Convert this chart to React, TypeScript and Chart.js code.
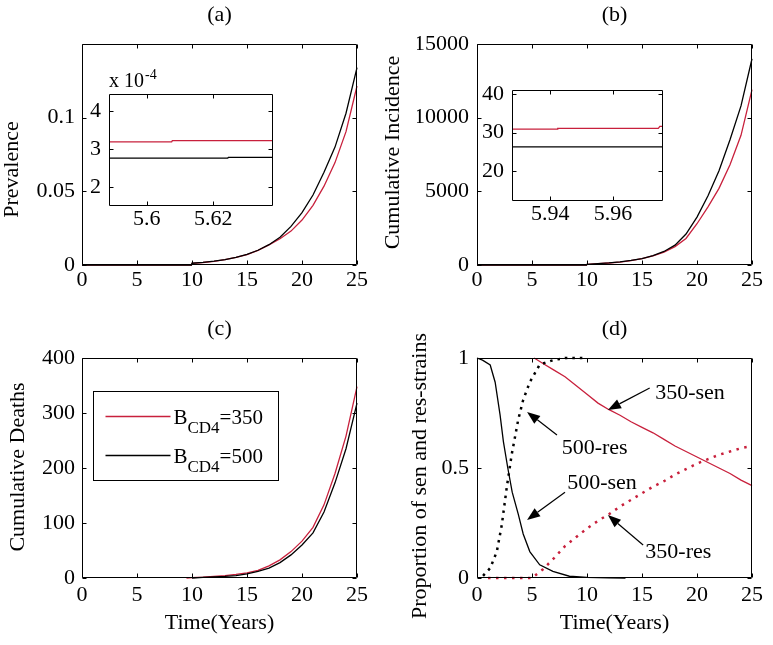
import React, { useEffect, useRef } from "react";
import { Chart, registerables } from "chart.js";
Chart.register(...registerables);

const W = 773;
const H = 645;
const SERIF = "'Liberation Serif', 'Times New Roman', Times, serif";
const RED = "#c8203c";
const BLACK = "#000000";

// shared x axis
const timeTicks = [0, 5, 10, 15, 20, 25];
const timeTickLabels = ["0", "5", "10", "15", "20", "25"];

// (a) Prevalence
const prevTicks = [0, 0.05, 0.1];
const prevTickLabels = ["0", "0.05", "0.1"];
const prevTime = [0, 9.95, 10, 11, 12, 13, 14, 15, 16, 17, 18, 19, 20, 21, 22, 23, 24, 25];
const prevV500 = [0, 0, 0.0012, 0.0018, 0.0026, 0.0037, 0.0052, 0.0072, 0.01, 0.0138, 0.0188, 0.0262, 0.0355, 0.0475, 0.063, 0.08, 0.103, 0.134];
const prevV350 = [0, 0, 0.0011, 0.0017, 0.0025, 0.0036, 0.0051, 0.0071, 0.0099, 0.0137, 0.0178, 0.023, 0.0305, 0.0405, 0.0535, 0.0695, 0.0905, 0.1215];

// (a) inset
const insAXTicks = [5.6, 5.62];
const insAXLabels = ["5.6", "5.62"];
const insAYTicks = [2e-4, 3e-4, 4e-4];
const insAYLabels = ["2", "3", "4"];
const insAT350 = [5.5887, 5.6075, 5.6077, 5.6379];
const insAV350 = [3.19e-4, 3.19e-4, 3.22e-4, 3.22e-4];
const insAT500 = [5.5887, 5.6243, 5.6245, 5.6379];
const insAV500 = [2.76e-4, 2.76e-4, 2.78e-4, 2.78e-4];
const insAScaleText = "x 10";
const insAScaleExp = "-4";

// (b) Cumulative incidence
const incTicks = [0, 5000, 10000, 15000];
const incTickLabels = ["0", "5000", "10000", "15000"];
const incTime = [0, 9.95, 10, 11, 12, 13, 14, 15, 16, 17, 18, 19, 20, 21, 22, 23, 24, 25];
const incV500 = [0, 0, 50, 90, 140, 210, 310, 440, 640, 920, 1350, 2100, 3250, 4700, 6400, 8500, 10800, 14000];
const incV350 = [0, 0, 45, 85, 135, 200, 300, 430, 620, 880, 1250, 1800, 2800, 3950, 5200, 6800, 8800, 11900];

// (b) inset
const insBXTicks = [5.94, 5.96];
const insBXLabels = ["5.94", "5.96"];
const insBYTicks = [20, 30, 40];
const insBYLabels = ["20", "30", "40"];
const insBT350 = [5.9278, 5.9422, 5.9424, 5.9745, 5.975, 5.976];
const insBV350 = [30.9, 30.9, 31.1, 31.1, 31.6, 31.6];
const insBT500 = [5.9278, 5.976];
const insBV500 = [26.3, 26.3];

// (c) Cumulative deaths
const deathTicks = [0, 100, 200, 300, 400];
const deathTickLabels = ["0", "100", "200", "300", "400"];
const deathT350 = [9.5, 10, 11, 12, 13, 14, 15, 16, 17, 18, 19, 20, 21, 22, 23, 24, 25];
const deathV350 = [0, 0.5, 1.5, 3, 4.5, 6.5, 9.5, 14, 22, 33, 48, 67, 92, 133, 190, 258, 348];
const deathT500 = [10, 11, 12, 13, 14, 15, 16, 17, 18, 19, 20, 21, 22, 23, 24, 25];
const deathV500 = [0, 1, 2, 3, 4.5, 7.5, 12, 18, 28, 42, 60, 82, 120, 173, 235, 318];
const legendValues = ["350", "500"];
const legendColors = [RED, BLACK];

// (d) Proportions
const propTicks = [0, 0.5, 1];
const propTickLabels = ["0", "0.5", "1"];
const sen500T = [0, 0.5, 1.2, 1.65, 2.1, 2.4, 2.8, 3.2, 3.75, 4.2, 4.8, 5.7, 6.9, 8.4, 10, 12, 13.5];
const sen500V = [1, 0.99, 0.968, 0.89, 0.74, 0.62, 0.5, 0.39, 0.29, 0.2, 0.12, 0.06, 0.03, 0.008, 0.003, 0.001, 0];
const res500T = [0.55, 1.2, 1.8, 2.25, 2.7, 3.15, 3.75, 4.2, 4.8, 5.7, 6.9, 8, 10];
const res500V = [0.01, 0.045, 0.12, 0.24, 0.41, 0.56, 0.72, 0.81, 0.89, 0.97, 0.99, 1.0, 1.0];
const sen350T = [5.2, 6, 7, 8, 9, 10, 11, 12, 13, 14, 15, 16, 17, 18, 19, 20, 21, 22, 23, 24, 25];
const sen350V = [1.0, 0.975, 0.945, 0.915, 0.875, 0.835, 0.795, 0.765, 0.74, 0.71, 0.685, 0.66, 0.63, 0.6, 0.575, 0.55, 0.525, 0.5, 0.475, 0.445, 0.42];
const res350T = [1, 5, 6, 7, 8, 9, 10, 11, 12, 13, 14, 15, 16, 17, 18, 19, 20, 21, 22, 23, 24, 25];
const res350V = [0, 0, 0.04, 0.09, 0.145, 0.185, 0.225, 0.26, 0.29, 0.325, 0.355, 0.385, 0.415, 0.44, 0.47, 0.495, 0.52, 0.54, 0.56, 0.575, 0.59, 0.6];

// (d) annotations (data coordinates)
const annTexts = ["350-sen", "500-res", "500-sen", "350-res"];
const annTextX = [16.2, 7.7, 8.2, 15.3];
const annTextY = [0.84, 0.59, 0.43, 0.118];
const arrowFromX = [15.7, 7.27, 8.0, 15.1];
const arrowFromY = [0.864, 0.65, 0.39, 0.15];
const arrowToX = [11.9, 4.55, 4.55, 11.9];
const arrowToY = [0.764, 0.755, 0.264, 0.286];

type Area = { l: number; t: number; r: number; b: number };
type AxisSpec = { min: number; max: number; ticks: number[]; labels: string[]; pad: number };
type Spec = {
  area: Area;
  yw: number;
  xh: number;
  x: AxisSpec;
  y: AxisSpec;
  datasets: any[];
  white?: boolean;
  title?: string;
  xlabel?: string;
  ylabel?: { text: string; dx: number; dy: number };
  draw?: (chart: any) => void;
};

function series(xs: number[], ys: number[], color: string, width: number, dash?: number[]) {
  return {
    data: xs.map((x, i) => ({ x, y: ys[i] })),
    borderColor: color,
    backgroundColor: color,
    borderWidth: width,
    borderDash: dash || [],
    pointRadius: 0,
    fill: false,
    tension: 0,
    clip: false,
  };
}

function makePlugin(s: Spec) {
  return {
    id: "matlabAxes",
    beforeDraw(chart: any) {
      if (!s.white) return;
      const a = chart.chartArea;
      const ctx = chart.ctx;
      ctx.save();
      ctx.fillStyle = "#ffffff";
      ctx.fillRect(a.left, a.top, a.right - a.left, a.bottom - a.top);
      ctx.restore();
    },
    afterDraw(chart: any) {
      const ctx = chart.ctx;
      const a = chart.chartArea;
      const xs = chart.scales.x;
      const ys = chart.scales.y;
      ctx.save();
      ctx.strokeStyle = "#000";
      ctx.lineWidth = 1;
      const L = Math.round(a.left) + 0.5;
      const R = Math.round(a.right) - 0.5;
      const T = Math.round(a.top) + 0.5;
      const B = Math.round(a.bottom) - 0.5;
      const TL = 4;
      ctx.beginPath();
      ctx.rect(L, T, R - L, B - T);
      s.x.ticks.forEach((v) => {
        const p = Math.round(xs.getPixelForValue(v)) + 0.5;
        ctx.moveTo(p, B);
        ctx.lineTo(p, B - TL);
        ctx.moveTo(p, T);
        ctx.lineTo(p, T + TL);
      });
      s.y.ticks.forEach((v) => {
        const p = Math.round(ys.getPixelForValue(v)) + 0.5;
        ctx.moveTo(L, p);
        ctx.lineTo(L + TL, p);
        ctx.moveTo(R, p);
        ctx.lineTo(R - TL, p);
      });
      ctx.stroke();

      ctx.fillStyle = "#000";
      ctx.font = `22px ${SERIF}`;
      ctx.textAlign = "center";
      ctx.textBaseline = "middle";
      const cx = (a.left + a.right) / 2;
      if (s.title) ctx.fillText(s.title, cx, a.top - 29);
      if (s.xlabel) ctx.fillText(s.xlabel, cx, a.bottom + 45);
      if (s.ylabel) {
        ctx.save();
        ctx.translate(a.left + s.ylabel.dx, (a.top + a.bottom) / 2 + s.ylabel.dy);
        ctx.rotate(-Math.PI / 2);
        ctx.fillText(s.ylabel.text, 0, 0);
        ctx.restore();
      }
      if (s.draw) s.draw(chart);
      ctx.restore();
    },
  };
}

function buildConfig(s: Spec): any {
  const { area } = s;
  const tickFont = { family: SERIF, size: 22 };
  return {
    type: "line",
    data: { datasets: s.datasets },
    options: {
      responsive: false,
      maintainAspectRatio: false,
      animation: false,
      events: [],
      layout: {
        padding: { left: area.l - s.yw, top: area.t, right: W - area.r, bottom: H - area.b - s.xh },
      },
      plugins: { legend: { display: false }, tooltip: { enabled: false }, title: { display: false } },
      scales: {
        x: {
          type: "linear",
          min: s.x.min,
          max: s.x.max,
          grid: { display: false, drawTicks: false },
          border: { display: false },
          afterBuildTicks: (sc: any) => {
            sc.ticks = s.x.ticks.map((v) => ({ value: v }));
          },
          afterFit: (sc: any) => {
            sc.height = s.xh;
          },
          ticks: {
            autoSkip: false,
            maxRotation: 0,
            minRotation: 0,
            padding: s.x.pad,
            color: "#000",
            font: tickFont,
            callback: (_v: any, i: number) => s.x.labels[i],
          },
        },
        y: {
          type: "linear",
          min: s.y.min,
          max: s.y.max,
          grid: { display: false, drawTicks: false },
          border: { display: false },
          afterBuildTicks: (sc: any) => {
            sc.ticks = s.y.ticks.map((v) => ({ value: v }));
          },
          afterFit: (sc: any) => {
            sc.width = s.yw;
          },
          ticks: {
            autoSkip: false,
            padding: s.y.pad,
            color: "#000",
            font: tickFont,
            callback: (_v: any, i: number) => s.y.labels[i],
          },
        },
      },
    },
    plugins: [makePlugin(s)],
  };
}

function drawArrow(ctx: any, fx: number, fy: number, tx: number, ty: number) {
  const ang = Math.atan2(ty - fy, tx - fx);
  const hl = 13;
  const hw = 5;
  const bx = tx - hl * Math.cos(ang);
  const by = ty - hl * Math.sin(ang);
  ctx.strokeStyle = "#000";
  ctx.fillStyle = "#000";
  ctx.lineWidth = 1.2;
  ctx.beginPath();
  ctx.moveTo(fx, fy);
  ctx.lineTo(bx, by);
  ctx.stroke();
  ctx.beginPath();
  ctx.moveTo(tx, ty);
  ctx.lineTo(bx + hw * Math.sin(ang), by - hw * Math.cos(ang));
  ctx.lineTo(bx - hw * Math.sin(ang), by + hw * Math.cos(ang));
  ctx.closePath();
  ctx.fill();
}

const timeAxis = (pad: number): AxisSpec => ({ min: 0, max: 25, ticks: timeTicks, labels: timeTickLabels, pad });

const specs: Spec[] = [
  {
    area: { l: 82, t: 44, r: 357, b: 265 },
    yw: 60,
    xh: 40,
    x: timeAxis(2),
    y: { min: 0, max: 0.15, ticks: prevTicks, labels: prevTickLabels, pad: 7 },
    datasets: [series(prevTime, prevV500, BLACK, 1.3), series(prevTime, prevV350, RED, 1.3)],
    title: "(a)",
    ylabel: { text: "Prevalence", dx: -70, dy: 15 },
  },
  {
    area: { l: 477, t: 44, r: 752, b: 265 },
    yw: 60,
    xh: 40,
    x: timeAxis(2),
    y: { min: 0, max: 15000, ticks: incTicks, labels: incTickLabels, pad: 8 },
    datasets: [series(incTime, incV500, BLACK, 1.3), series(incTime, incV350, RED, 1.3)],
    title: "(b)",
    ylabel: { text: "Cumulative Incidence", dx: -84, dy: -2 },
  },
  {
    area: { l: 82, t: 358, r: 357, b: 578 },
    yw: 60,
    xh: 40,
    x: timeAxis(4),
    y: { min: 0, max: 400, ticks: deathTicks, labels: deathTickLabels, pad: 7 },
    datasets: [series(deathT500, deathV500, BLACK, 1.3), series(deathT350, deathV350, RED, 1.3)],
    title: "(c)",
    xlabel: "Time(Years)",
    ylabel: { text: "Cumulative Deaths", dx: -64, dy: -1 },
    draw: (chart: any) => {
      const ctx = chart.ctx;
      const a = chart.chartArea;
      const bx = Math.round(a.left + 11) + 0.5;
      const by = Math.round(a.top + 33) + 0.5;
      const bw = 185;
      const bh = 89;
      ctx.fillStyle = "#fff";
      ctx.fillRect(bx, by, bw, bh);
      ctx.strokeStyle = "#000";
      ctx.lineWidth = 1;
      ctx.strokeRect(bx, by, bw, bh);
      legendValues.forEach((val, i) => {
        const ly = by + 25 + i * 39;
        ctx.strokeStyle = legendColors[i];
        ctx.lineWidth = 1.3;
        ctx.beginPath();
        ctx.moveTo(bx + 12, ly);
        ctx.lineTo(bx + 77, ly);
        ctx.stroke();
        ctx.fillStyle = "#000";
        ctx.textAlign = "left";
        ctx.textBaseline = "alphabetic";
        let x = bx + 80;
        ctx.font = `21px ${SERIF}`;
        ctx.fillText("B", x, ly + 7);
        x += ctx.measureText("B").width;
        ctx.font = `17px ${SERIF}`;
        ctx.fillText("CD4", x, ly + 16);
        x += ctx.measureText("CD4").width;
        ctx.font = `21px ${SERIF}`;
        ctx.fillText("=" + val, x, ly + 7);
      });
    },
  },
  {
    area: { l: 477, t: 358, r: 752, b: 578 },
    yw: 60,
    xh: 40,
    x: timeAxis(4),
    y: { min: 0, max: 1, ticks: propTicks, labels: propTickLabels, pad: 8 },
    datasets: [
      series(sen500T, sen500V, BLACK, 1.3),
      series(res500T, res500V, BLACK, 2.5, [2.5, 5]),
      series(sen350T, sen350V, RED, 1.3),
      series(res350T, res350V, RED, 2.5, [2.5, 5.5]),
    ],
    title: "(d)",
    xlabel: "Time(Years)",
    ylabel: { text: "Proportion of sen and res-strains", dx: -57, dy: 8 },
    draw: (chart: any) => {
      const ctx = chart.ctx;
      const xs = chart.scales.x;
      const ys = chart.scales.y;
      annTexts.forEach((t, i) => {
        drawArrow(
          ctx,
          xs.getPixelForValue(arrowFromX[i]),
          ys.getPixelForValue(arrowFromY[i]),
          xs.getPixelForValue(arrowToX[i]),
          ys.getPixelForValue(arrowToY[i])
        );
        ctx.fillStyle = "#000";
        ctx.font = `22px ${SERIF}`;
        ctx.textAlign = "left";
        ctx.textBaseline = "middle";
        ctx.fillText(t, xs.getPixelForValue(annTextX[i]), ys.getPixelForValue(annTextY[i]));
      });
    },
  },
  {
    area: { l: 109, t: 94, r: 273, b: 206 },
    yw: 40,
    xh: 30,
    x: { min: 5.5887, max: 5.6379, ticks: insAXTicks, labels: insAXLabels, pad: 0 },
    y: { min: 1.51e-4, max: 4.44e-4, ticks: insAYTicks, labels: insAYLabels, pad: 8 },
    datasets: [series(insAT500, insAV500, BLACK, 1.3), series(insAT350, insAV350, RED, 1.3)],
    white: true,
    draw: (chart: any) => {
      const ctx = chart.ctx;
      const a = chart.chartArea;
      ctx.fillStyle = "#000";
      ctx.textAlign = "left";
      ctx.textBaseline = "alphabetic";
      ctx.font = `20px ${SERIF}`;
      ctx.fillText(insAScaleText, a.left, a.top - 7);
      const w = ctx.measureText(insAScaleText).width;
      ctx.font = `14px ${SERIF}`;
      ctx.fillText(insAScaleExp, a.left + w + 1, a.top - 15);
    },
  },
  {
    area: { l: 512, t: 90, r: 663, b: 201 },
    yw: 40,
    xh: 30,
    x: { min: 5.9278, max: 5.976, ticks: insBXTicks, labels: insBXLabels, pad: 0 },
    y: { min: 12.3, max: 41, ticks: insBYTicks, labels: insBYLabels, pad: 8 },
    datasets: [series(insBT500, insBV500, BLACK, 1.3), series(insBT350, insBV350, RED, 1.3)],
    white: true,
  },
];

export default function App() {
  const refs = useRef<(HTMLCanvasElement | null)[]>([]);
  useEffect(() => {
    document.body.style.margin = "0";
    Chart.defaults.font.family = SERIF;
    Chart.defaults.color = "#000";
    const charts = specs.map((s, i) => new Chart(refs.current[i] as HTMLCanvasElement, buildConfig(s)));
    return () => charts.forEach((c) => c.destroy());
  }, []);
  return (
    <div style={{ position: "fixed", left: 0, top: 0, width: W, height: H, background: "#fff", overflow: "hidden" }}>
      {specs.map((_, i) => (
        <canvas
          key={i}
          ref={(el) => {
            refs.current[i] = el;
          }}
          width={W}
          height={H}
          style={{ position: "absolute", left: 0, top: 0, width: W, height: H }}
        />
      ))}
    </div>
  );
}
